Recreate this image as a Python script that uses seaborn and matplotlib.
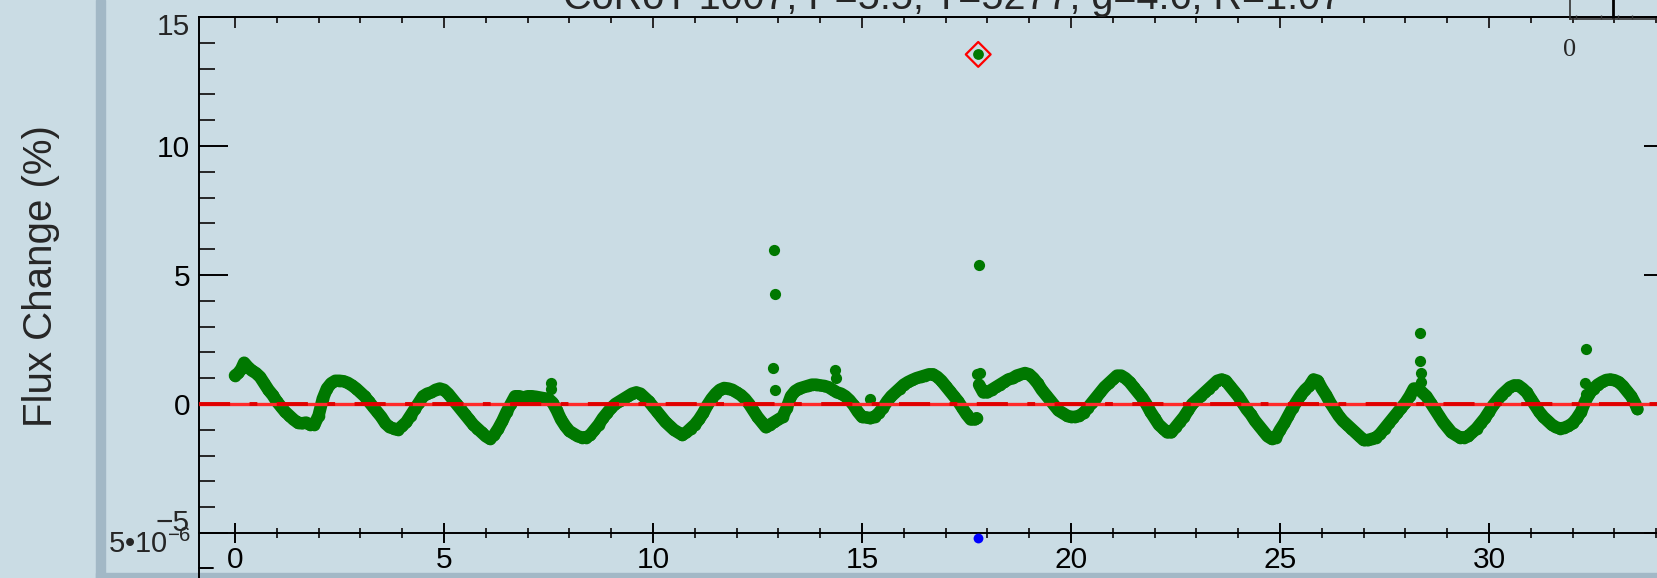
import matplotlib
matplotlib.use("Agg")
import matplotlib.pyplot as plt
from matplotlib.lines import Line2D
from matplotlib.patches import Rectangle
from matplotlib.ticker import MultipleLocator
import pandas as pd
import seaborn as sns

# Light curve, first stretch (time in days, flux change in %)
t_seg1 = [0.0, 0.08, 0.15, 0.22, 0.3, 0.4, 0.5, 0.6, 0.7, 0.8, 0.9, 1.0, 1.1, 1.2, 1.3, 1.4,
          1.5, 1.6, 1.7, 1.8, 1.9, 2.0, 2.1, 2.2, 2.3, 2.4, 2.5, 2.6, 2.7, 2.8, 2.9, 3.0,
          3.1, 3.2, 3.3, 3.4, 3.5, 3.6, 3.7, 3.8, 3.9, 4.0, 4.1, 4.2, 4.3, 4.4, 4.5, 4.6,
          4.7, 4.8, 4.9, 5.0, 5.1, 5.2, 5.3, 5.4, 5.5, 5.6, 5.7, 5.8, 5.9, 6.0, 6.1, 6.2,
          6.3, 6.4, 6.5, 6.6, 6.7, 6.8, 6.9, 7.0, 7.1, 7.2, 7.3, 7.4, 7.5, 7.6, 7.7, 7.8,
          7.9, 8.0, 8.1, 8.2, 8.3, 8.4, 8.5, 8.6, 8.7, 8.8, 8.9, 9.0, 9.1, 9.2, 9.3, 9.4,
          9.5, 9.6, 9.7, 9.8, 9.9, 10.0, 10.1, 10.2, 10.3, 10.4, 10.5, 10.6, 10.7, 10.8,
          10.9, 11.0, 11.1, 11.2, 11.3, 11.4, 11.5, 11.6, 11.7, 11.8, 11.9, 12.0, 12.1,
          12.2, 12.3, 12.4, 12.5, 12.6, 12.7, 12.8, 12.9, 13.0, 13.1, 13.2, 13.3, 13.4,
          13.5, 13.6, 13.7, 13.8, 13.9, 14.0, 14.1, 14.2, 14.3, 14.4, 14.5, 14.6, 14.7,
          14.8, 14.9, 15.0, 15.1, 15.2, 15.3, 15.4, 15.5, 15.6, 15.7, 15.8, 15.9, 16.0,
          16.1, 16.2, 16.3, 16.4, 16.5, 16.6, 16.7, 16.8, 16.9, 17.0, 17.1, 17.2, 17.3,
          17.4, 17.5, 17.6, 17.7, 17.74]
f_seg1 = [1.1, 1.2, 1.35, 1.6, 1.45, 1.3, 1.2, 1.05, 0.8, 0.55, 0.35, 0.1, -0.1, -0.3, -0.45, -0.6,
          -0.72, -0.75, -0.72, -0.8, -0.8, -0.45, 0.2, 0.6, 0.8, 0.9, 0.9, 0.88, 0.82, 0.72, 0.6, 0.45,
          0.3, 0.1, -0.1, -0.3, -0.5, -0.75, -0.9, -0.95, -1.0, -0.85, -0.7, -0.45, -0.2, 0.05, 0.3, 0.4,
          0.45, 0.55, 0.6, 0.55, 0.4, 0.2, 0.0, -0.2, -0.4, -0.6, -0.8, -0.95, -1.1, -1.25, -1.35, -1.2,
          -0.95, -0.65, -0.3, 0.0, 0.3, 0.3, 0.25, 0.3, 0.3, 0.28, 0.25, 0.22, 0.2, 0.05, -0.25, -0.6,
          -0.85, -1.05, -1.15, -1.25, -1.3, -1.3, -1.2, -1.0, -0.8, -0.55, -0.35, -0.15, 0.0, 0.1, 0.2, 0.3,
          0.4, 0.45, 0.4, 0.25, 0.1, -0.1, -0.3, -0.5, -0.7, -0.85, -1.0, -1.1, -1.2, -1.1,
          -0.95, -0.8, -0.6, -0.35, -0.05, 0.2, 0.4, 0.55, 0.62, 0.6, 0.55, 0.45, 0.35,
          0.2, 0.0, -0.25, -0.5, -0.7, -0.9, -0.8, -0.7, -0.6, -0.5, -0.15, 0.3, 0.5,
          0.6, 0.65, 0.7, 0.75, 0.75, 0.72, 0.7, 0.65, 0.55, 0.45, 0.4, 0.3, 0.15,
          -0.05, -0.3, -0.5, -0.52, -0.55, -0.5, -0.35, -0.15, 0.1, 0.3, 0.45, 0.6, 0.75,
          0.85, 0.93, 1.0, 1.05, 1.1, 1.15, 1.15, 1.05, 0.9, 0.7, 0.5, 0.3, 0.1,
          -0.15, -0.4, -0.6, -0.6, -0.55]

# Light curve, second stretch
t_seg2 = [17.8, 17.9, 18.0, 18.1, 18.2, 18.3, 18.4, 18.5, 18.6, 18.7, 18.8, 18.9, 19.0, 19.1,
          19.2, 19.3, 19.4, 19.5, 19.6, 19.7, 19.8, 19.9, 20.0, 20.1, 20.2, 20.3, 20.4, 20.5,
          20.6, 20.7, 20.8, 20.9, 21.0, 21.1, 21.2, 21.3, 21.4, 21.5, 21.6, 21.7, 21.8, 21.9,
          22.0, 22.1, 22.2, 22.3, 22.4, 22.5, 22.6, 22.7, 22.8, 22.9, 23.0, 23.1, 23.2, 23.3,
          23.4, 23.5, 23.6, 23.7, 23.8, 23.9, 24.0, 24.1, 24.2, 24.3, 24.4, 24.5, 24.6, 24.7,
          24.8, 24.9, 25.0, 25.1, 25.2, 25.3, 25.4, 25.5, 25.6, 25.7, 25.8, 25.9, 26.0, 26.1,
          26.2, 26.3, 26.4, 26.5, 26.6, 26.7, 26.8, 26.9, 27.0, 27.1, 27.2, 27.3, 27.4, 27.5,
          27.6, 27.7, 27.8, 27.9, 28.0, 28.1, 28.2, 28.3, 28.4, 28.5, 28.6, 28.7, 28.8, 28.9,
          29.0, 29.1, 29.2, 29.3, 29.4, 29.5, 29.6, 29.7, 29.8, 29.9, 30.0, 30.1, 30.2, 30.3,
          30.4, 30.5, 30.6, 30.7, 30.8, 30.9, 31.0, 31.1, 31.2, 31.3, 31.4, 31.5, 31.6, 31.7,
          31.8, 31.9, 32.0, 32.1, 32.2, 32.3, 32.4, 32.5, 32.6, 32.7, 32.8, 32.9, 33.0, 33.1,
          33.2, 33.3, 33.4, 33.5, 33.55]
f_seg2 = [0.75, 0.45, 0.45, 0.55, 0.65, 0.75, 0.85, 0.95, 1.0, 1.1, 1.15, 1.2, 1.15, 1.0,
          0.8, 0.55, 0.35, 0.15, -0.05, -0.25, -0.35, -0.45, -0.5, -0.5, -0.45, -0.35, -0.15, 0.05,
          0.25, 0.45, 0.65, 0.8, 0.95, 1.1, 1.1, 1.0, 0.85, 0.65, 0.45, 0.25, 0.0, -0.3,
          -0.55, -0.8, -0.95, -1.1, -1.1, -0.9, -0.7, -0.5, -0.25, 0.0, 0.15, 0.3, 0.45, 0.6,
          0.75, 0.9, 0.95, 0.9, 0.7, 0.5, 0.3, 0.05, -0.2, -0.4, -0.65, -0.85, -1.05, -1.25,
          -1.35, -1.3, -1.0, -0.75, -0.45, -0.15, 0.1, 0.35, 0.55, 0.7, 0.95, 0.9, 0.6, 0.35,
          0.05, -0.2, -0.45, -0.65, -0.8, -0.95, -1.1, -1.25, -1.4, -1.4, -1.35, -1.3, -1.15, -0.95,
          -0.75, -0.55, -0.35, -0.15, 0.05, 0.3, 0.6, 0.6, 0.45, 0.3, 0.05, -0.2, -0.45, -0.7,
          -0.9, -1.1, -1.2, -1.3, -1.3, -1.25, -1.1, -0.95, -0.75, -0.55, -0.3, -0.05, 0.15, 0.35,
          0.5, 0.65, 0.72, 0.72, 0.6, 0.45, 0.2, -0.05, -0.3, -0.5, -0.65, -0.8, -0.9, -0.95,
          -0.92, -0.85, -0.75, -0.55, -0.3, 0.1, 0.4, 0.6, 0.75, 0.85, 0.93, 0.95, 0.92, 0.85,
          0.7, 0.5, 0.3, 0.0, -0.2]

# Isolated high points above the curve
t_spike = [7.55, 7.57, 12.9, 12.92, 12.88, 12.93, 14.35, 14.37, 15.2, 17.8, 17.74, 17.82,
           28.35, 28.35, 28.37, 28.38, 32.33, 32.3, 32.31]
f_spike = [0.8, 0.6, 5.95, 4.27, 1.4, 0.55, 1.32, 1.0, 0.2, 5.38, 1.16, 1.2,
           2.75, 1.67, 1.2, 0.86, 2.13, 0.8, 0.4]

# Flagged event and the matching point of the lower panel
t_flag = [17.78]
f_flag = [13.55]
t_low = [17.78]
f_low = [-5.2]

x_ticks = [0, 5, 10, 15, 20, 25, 30]
y_ticks = [-5, 0, 5, 10, 15]
y_tick_labels = ["", "0", "5", "10", ""]
title_text = "CoRoT 1007, P=5.5, T=5277, g=4.6, R=1.07"
y_label = "Flux Change (%)"
low_label = "5\u202210$^{-6}$"

W, H = 1657, 578
BG = "#cadce4"
GREEN = "#007800"
TICK_FS = 21.5

sns.set_theme(style="ticks")
plt.rcParams["font.family"] = ["Liberation Sans", "DejaVu Sans"]
plt.rcParams["mathtext.fontset"] = "custom"
plt.rcParams["mathtext.rm"] = "Liberation Sans"
plt.rcParams["mathtext.it"] = "Liberation Sans"

fig = plt.figure(figsize=(W / 100, H / 100), dpi=100)
fig.patch.set_facecolor(BG)

# slide frame strips
fig.add_artist(Rectangle((96 / W, 0), 9 / W, 1, transform=fig.transFigure,
                         color="#a2b8c6", zorder=0))
fig.add_artist(Rectangle((96 / W, 0), 1, 5 / H, transform=fig.transFigure,
                         color="#a2b8c6", zorder=0))

ax = fig.add_axes([199 / W, 1 - 533 / H, (1673 - 199) / W, (533 - 17) / H])
ax.set_facecolor("none")

seg1 = pd.DataFrame({"t": t_seg1, "f": f_seg1})
seg2 = pd.DataFrame({"t": t_seg2, "f": f_seg2})
spikes = pd.DataFrame({"t": t_spike, "f": f_spike})

for seg in (seg1, seg2):
    sns.lineplot(data=seg, x="t", y="f", ax=ax, color=GREEN, linewidth=9,
                 sort=False, solid_capstyle="round", solid_joinstyle="round", zorder=2)
    sns.scatterplot(data=seg, x="t", y="f", ax=ax, color=GREEN, s=70,
                    linewidth=0, zorder=3)
sns.scatterplot(data=spikes, x="t", y="f", ax=ax, color=GREEN, s=65,
                linewidth=0, zorder=3)
sns.scatterplot(x=t_flag, y=f_flag, ax=ax, color=GREEN, s=60, linewidth=0, zorder=4)
sns.scatterplot(x=t_flag, y=f_flag, ax=ax, marker="D", s=160, facecolor="none",
                edgecolor="#ff0000", linewidth=1.6, zorder=5)
sns.scatterplot(x=t_low, y=f_low, ax=ax, color="#0000ff", s=50, linewidth=0,
                zorder=5, clip_on=False)

# zero reference line: solid red with a darker dash-dot pattern on top
ax.axhline(0, color="#ff2a2a", linewidth=2.4, zorder=6)
ax.axhline(0, color="#e00000", linewidth=2.8, dashes=(8, 5, 2, 5), zorder=6)

ax.set_xlim(-0.86, 34.4)
ax.set_ylim(-5, 15)
ax.set_xlabel("")
ax.set_ylabel("")

for side in ("left", "right", "top", "bottom"):
    ax.spines[side].set_visible(True)
    ax.spines[side].set_color("black")
    ax.spines[side].set_linewidth(1.4)

ax.set_xticks(x_ticks)
ax.xaxis.set_minor_locator(MultipleLocator(1))
ax.set_yticks(y_ticks)
ax.set_yticklabels(y_tick_labels)
ax.yaxis.set_minor_locator(MultipleLocator(1))

ax.tick_params(axis="x", which="major", direction="inout", length=14.4, width=1.4,
               bottom=True, top=False, labelsize=TICK_FS, pad=2.5, colors="black")
ax.tick_params(axis="x", which="minor", direction="inout", length=6.7, width=1.4,
               bottom=True, top=False)
ax.tick_params(axis="y", which="major", direction="in", length=21, width=1.4,
               left=True, right=True, labelsize=TICK_FS, pad=6.5, colors="black")
ax.tick_params(axis="y", which="minor", direction="in", length=11.3, width=1.4,
               left=True, right=True)

top = ax.secondary_xaxis("top")
top.set_xticks(x_ticks)
top.xaxis.set_minor_locator(MultipleLocator(1))
top.tick_params(axis="x", which="major", direction="in", length=7.6, width=1.4,
                labeltop=False)
top.tick_params(axis="x", which="minor", direction="in", length=4.0, width=1.4)
top.spines["top"].set_linewidth(1.4)

# end labels of the y axis sit inside the frame
ax.annotate("15", xy=(0, 15), xycoords=("axes fraction", "data"),
            xytext=(-6.5, -7), textcoords="offset points",
            ha="right", va="center", fontsize=TICK_FS)
ax.annotate("\u22125", xy=(0, -5), xycoords=("axes fraction", "data"),
            xytext=(-6.5, 7), textcoords="offset points",
            ha="right", va="center", fontsize=TICK_FS)

fig.text(41 / W, 1 - 276 / H, y_label, rotation=90, ha="center", va="center",
         fontsize=29)
fig.text(953 / W, 1 - 9 / H, title_text, ha="center", va="baseline", fontsize=28.5)

# lower panel peeking out below
fig.add_artist(Line2D([199 / W, 199 / W], [0, 45 / H], transform=fig.transFigure,
                      color="black", linewidth=1.4))
fig.add_artist(Line2D([199 / W, 213 / W], [10 / H, 10 / H], transform=fig.transFigure,
                      color="black", linewidth=1.4))
fig.text(191 / W, 1 - 553 / H, low_label, ha="right", va="baseline", fontsize=21)

# corner of a neighbouring panel
ins = fig.add_axes([1570 / W, 1 - 19 / H, 160 / W, 40 / H])
ins.set_facecolor("none")
ins.set_xlim(0, 160)
ins.set_ylim(0, 40)
ins.spines["top"].set_visible(False)
ins.spines["right"].set_visible(False)
ins.spines["left"].set_linewidth(1.2)
ins.spines["bottom"].set_linewidth(1.2)
ins.spines["left"].set_color("#333333")
ins.spines["bottom"].set_color("#333333")
ins.set_xticks([6, 31, 48, 62])
ins.set_xticklabels([])
ins.set_yticks([])
ins.tick_params(axis="x", direction="in", length=3, width=1.0, colors="#333333")
ins.axvline(43, color="black", linewidth=2)
fig.text(1570 / W, 1 - 50 / H, "0", ha="center", va="center", fontsize=19,
         family=["Liberation Serif", "DejaVu Serif"])

fig.savefig("out.png", dpi=100, facecolor=BG)
